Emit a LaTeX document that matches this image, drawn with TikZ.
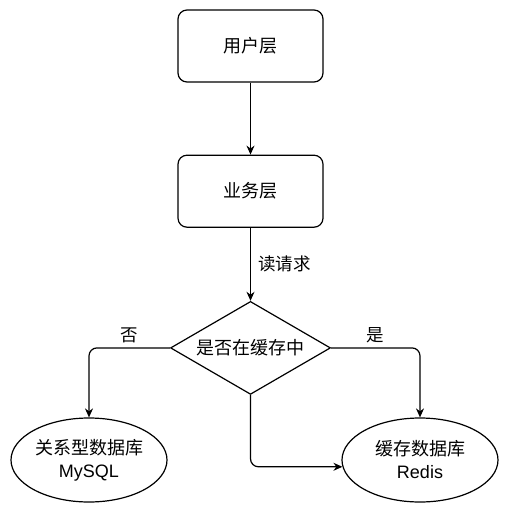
\documentclass[tikz,border=0pt]{standalone}
\usepackage{fontspec}
\setmainfont{Liberation Sans}
\newfontfamily\cjk{Noto Sans CJK SC}
\usetikzlibrary{arrows.meta,shapes.geometric,positioning}
\begin{document}
\begin{tikzpicture}
[x=1pt,y=-1pt,node distance=72pt,
box/.style={shape=rectangle,draw,rounded corners=9pt,line width=1.2pt,
minimum width=145pt,minimum height=72pt,inner sep=0pt,font=\cjk\fontsize{18}{22}\selectfont},
cond/.style={shape=diamond,draw,line width=1.2pt,aspect=1.72,minimum width=160pt,
minimum height=93pt,inner sep=0pt,font=\cjk\fontsize{18}{22}\selectfont},
db/.style={shape=ellipse,draw,line width=1.2pt,minimum width=156pt,
minimum height=84pt,inner sep=0pt,align=center,font=\fontsize{18}{23}\selectfont},
lbl/.style={font=\cjk\fontsize{17.5}{20}\selectfont},
%
myedge/.style={line width=1.2pt,rounded corners=8pt,-{Stealth[length=9pt,width=8pt]}}]
%
\useasboundingbox (0,0) rectangle (509,514);
%
\node (user) [box] at (250.5,46) {用户层};
\node (biz) [box,below=of user] {业务层};
\node (check) [cond,below=73pt of biz] {是否在缓存中};
\node (mysql) [db] at (89,460) {{\cjk 关系型数据库}\\MySQL};
\node (redis) [db] at (420,460) {{\cjk 缓存数据库}\\Redis};
%
\draw[myedge] (user) -- (biz);
\draw[myedge] (biz) -- node[lbl,right=4pt] {读请求} (check);
%
\draw[myedge] (check.west) -| node[lbl,pos=.25,above=1pt] {否} (mysql);
\draw[myedge] (check.east) -| node[lbl,pos=.25,above=1pt] {是} (redis);
\draw[myedge] (check.south) |- (redis.185);
\end{tikzpicture}
\end{document}
